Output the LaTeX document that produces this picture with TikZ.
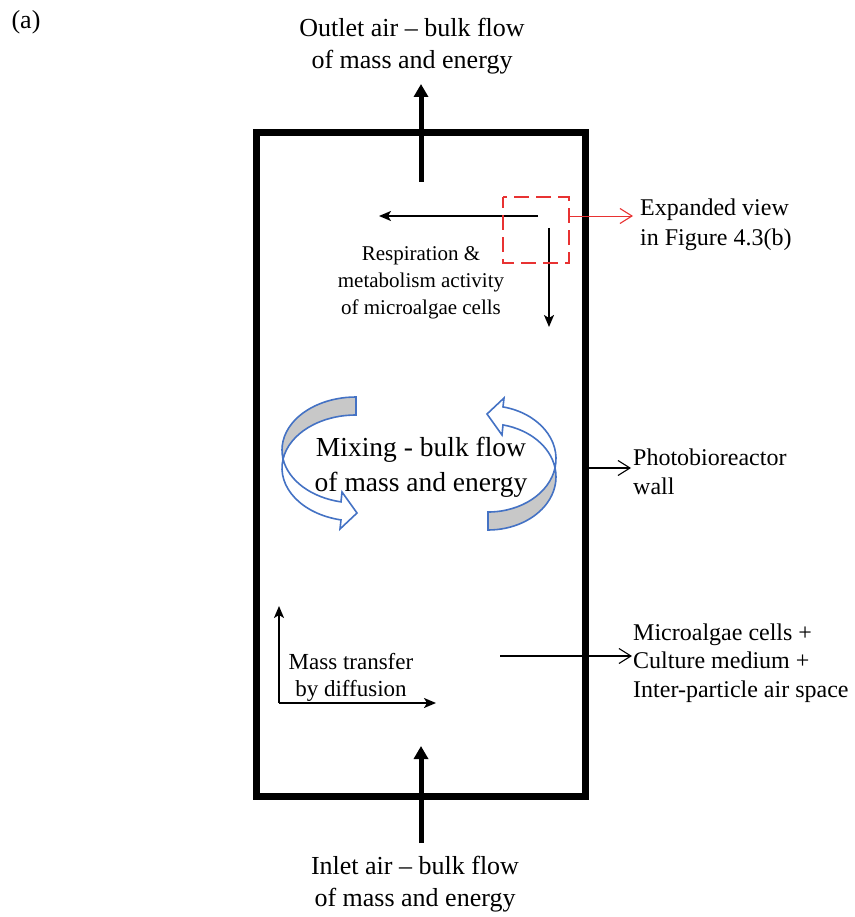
\documentclass[tikz,border=0pt]{standalone}
\usepackage{fontspec}
\setmainfont{Liberation Serif}
\usetikzlibrary{arrows.meta}
\definecolor{arcblue}{RGB}{68,114,196}
\definecolor{dashred}{RGB}{232,50,50}
\definecolor{shadegray}{RGB}{200,200,200}
\begin{document}
\begin{tikzpicture}[x=1pt,y=1pt,
  thickarrow/.style={line width=5pt,-{Triangle[length=13pt,width=14pt]}},
  thinarrow/.style={line width=1.8pt,-{Stealth[length=12pt,width=10pt,inset=3pt]}},
  openarrow/.style={line width=1.1pt,-{Straight Barb[length=12pt,width=15pt,line width=1.1pt]}},
  lbl/.style={inner sep=0pt,text=black},
  bandback/.style={draw=arcblue,line width=1.6pt,fill=shadegray,line join=miter},
  bandfront/.style={draw=arcblue,line width=1.6pt,fill=white,line join=miter}
]
\useasboundingbox (0,0) rectangle (854,-917);

% photobioreactor wall
\draw[line width=7pt] (256.5,-133) rectangle (585,-796);

% inlet / outlet thick arrows
\coordinate (outS) at (421,-182);
\coordinate (outE) at (421,-84);
\coordinate (inS) at (421,-843);
\coordinate (inE) at (421,-746);
\draw[thickarrow] (outS) -- (outE);
\draw[thickarrow] (inS) -- (inE);

% respiration arrows
\coordinate (rc) at (538,-216);
\coordinate (rl) at (379,-216);
\coordinate (dc) at (549,-228);
\coordinate (dd) at (549,-327);
\draw[thinarrow] (rc) -- (rl);
\draw[thinarrow] (dc) -- (dd);

% red dashed expanded view box
\draw[dashred,line width=2.4pt,dash pattern=on 15pt off 7pt,dash phase=4pt] (503,-197) rectangle (569,-263);
\coordinate (redS) at (569,-216);
\coordinate (redE) at (633,-216);
\draw[openarrow,dashred,line width=0.9pt] (redS) -- (redE);

% wall pointer
\coordinate (wS) at (588.5,-468);
\coordinate (wE) at (631,-468);
\draw[openarrow] (wS) -- (wE);

% medium pointer
\coordinate (mS) at (500,-656);
\coordinate (mE) at (632,-656);
\draw[openarrow] (mS) -- (mE);

% diffusion axes
\coordinate (dO) at (279,-703);
\coordinate (dU) at (279,-606);
\coordinate (dR) at (436,-703);
\draw[thinarrow] (dO) -- (dU);
\draw[thinarrow] (dO) -- (dR);

% left curved arrow
\draw[bandback] (356,-397) arc[start angle=90,end angle=189.78,x radius=74,y radius=53]
  arc[start angle=170.22,end angle=90,x radius=74,y radius=53] -- cycle;
\draw[bandfront] (283.08,-459) arc[start angle=189.78,end angle=258.3,x radius=74,y radius=53]
  -- (342,-492) -- (357,-513) -- (340,-529) -- (341,-519.9)
  arc[start angle=258.3,end angle=170.22,x radius=74,y radius=53] -- cycle;

% right curved arrow
\draw[bandback] (488,-530) arc[start angle=270,end angle=369.74,x radius=68,y radius=53.2]
  arc[start angle=350.26,end angle=270,x radius=68,y radius=53.2] -- cycle;
\draw[bandfront] (555.02,-467.8) arc[start angle=9.74,end angle=77.26,x radius=68,y radius=53.2]
  -- (502,-435) -- (487,-414) -- (504,-398) -- (503,-406.9)
  arc[start angle=77.26,end angle=-9.74,x radius=68,y radius=53.2] -- cycle;

% texts
\node[lbl,font=\fontsize{26}{32}\selectfont] (tag) at (26,-22) {(a)};
\node[lbl,align=center,font=\fontsize{26}{32}\selectfont] (outlet) at (412,-46) {Outlet air – bulk flow\\of mass and energy};
\node[lbl,align=center,font=\fontsize{26}{32}\selectfont] (inlet) at (415,-884) {Inlet air – bulk flow\\of mass and energy};
\node[lbl,align=center,font=\fontsize{21}{27}\selectfont] (resp) at (421,-283) {Respiration \&\\metabolism activity\\of microalgae cells};
\node[lbl,align=center,font=\fontsize{27.5}{35}\selectfont] (mix) at (421,-467.5) {Mixing - bulk flow\\of mass and energy};
\node[lbl,align=left,anchor=west,font=\fontsize{24}{30}\selectfont] (expv) at (640,-225) {Expanded view\\in Figure 4.3(b)};
\node[lbl,align=left,anchor=west,font=\fontsize{24}{29}\selectfont] (wall) at (633,-472) {Photobioreactor\\wall};
\node[lbl,align=left,anchor=west,font=\fontsize{24}{28.5}\selectfont] (med) at (633,-663) {Microalgae cells +\\Culture medium +\\Inter-particle air space};
\node[lbl,align=center,font=\fontsize{23}{27}\selectfont] (diff) at (351,-677) {Mass transfer\\by diffusion};
\end{tikzpicture}
\end{document}
